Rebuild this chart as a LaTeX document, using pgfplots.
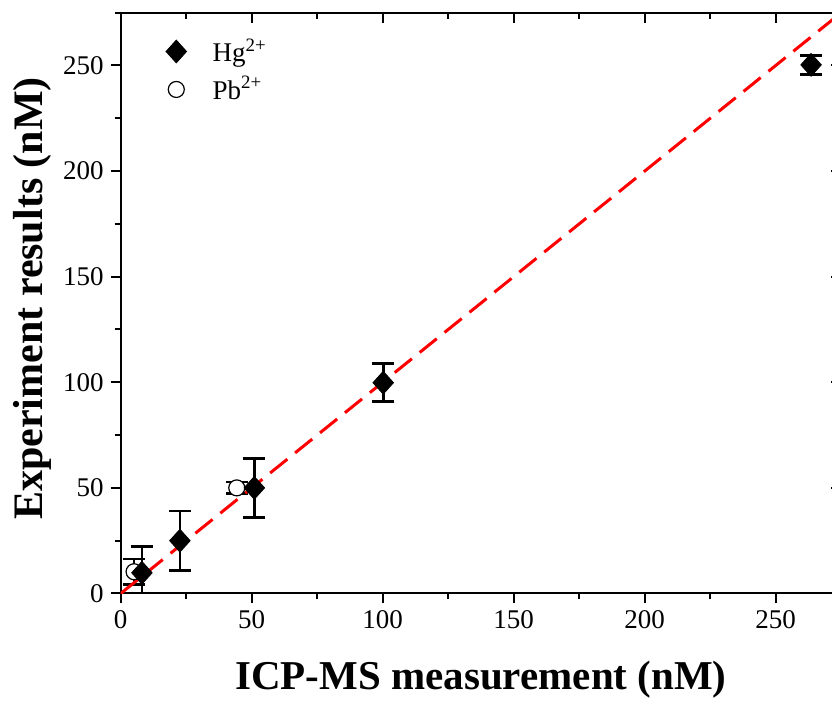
\documentclass[border=0pt]{standalone}
\usepackage{fontspec}
\setmainfont{Liberation Serif}
\usepackage{pgfplots}
\pgfplotsset{compat=1.18}

\pgfplotsset{
  frame/.style={
    scale only axis, width=360.25pt, height=290.4pt,
    xmin=0, xmax=275, ymin=0, ymax=275,
    xtick={0,50,...,250}, ytick={0,50,...,250},
    minor xtick={25,75,...,275}, minor ytick={25,75,...,275},
    axis line style={line width=1pt},
    every tick/.style={black, line width=1pt},
    major tick length=5pt, minor tick length=3pt,
  },
}

\begin{document}
\begin{tikzpicture}
% top and right ticks point inwards
\begin{axis}[frame, xtick pos=right, ytick pos=right, tick align=inside,
  xticklabels={}, yticklabels={}]
\end{axis}

\begin{axis}[frame, xtick pos=left, ytick pos=left, tick align=outside,
  ticklabel style={font=\fontsize{13.5}{16}\selectfont},
  /pgf/number format/assume math mode=true,
  xlabel={ICP-MS measurement (nM)},
  ylabel={Experiment results (nM)},
  every axis x label/.style={at={(axis description cs:0.5,-0.1653)}, anchor=base,
    font=\fontsize{20.5}{24}\selectfont\bfseries},
  every axis y label/.style={at={(axis description cs:-0.1092,0.508)}, anchor=base,
    rotate=90, font=\fontsize{21}{24}\selectfont\bfseries},
  legend style={at={(axis description cs:0.0483,0.97)}, anchor=north west,
    draw=none, fill=none, font=\fontsize{13.5}{16}\selectfont,
    row sep=2pt},
  legend image code/.code={
    \draw[#1, only marks] plot coordinates {(0pt,0pt)};
    \path (-7pt,0pt) (16pt,0pt);
  },
  legend cell align=left,
  reverse legend,
  error bars/error bar style={line width=1.3pt, black},
  error bars/error mark options={rotate=90, mark size=5.5pt, line width=1.3pt, black},
]

% Pb2+
\addplot[only marks, mark=*, mark size=4pt,
  mark options={fill=white, draw=black, line width=0.6pt},
  error bars/.cd, y dir=both, y explicit]
  coordinates {
  (5.1,10.3) +- (0,6)
  (44.3,50) +- (0,2.7)
  };
\addlegendentry{Pb\textsuperscript{2+}}

% Hg2+
\addplot[only marks, mark=diamond*, mark size=5.7pt,
  mark options={fill=black, draw=black, xscale=1.2},
  error bars/.cd, y dir=both, y explicit]
  coordinates {
  (8.1,9.8) +- (0,12.5)
  (22.6,25) +- (0,14)
  (51,50) +- (0,14)
  (100.2,99.8) +- (0,9)
  (263.5,250.3) +- (0,4.5)
  };
\addlegendentry{Hg\textsuperscript{2+}}

% y = x reference line
\addplot[forget plot, red, line width=1.5pt, dash pattern=on 11pt off 5pt, no marks]
  coordinates {(0,0) (275,275)};
\end{axis}

\pgfresetboundingbox
\path[use as bounding box] (-60.35pt,-53.35pt) rectangle (355.65pt,296.75pt);
\end{tikzpicture}
\end{document}
